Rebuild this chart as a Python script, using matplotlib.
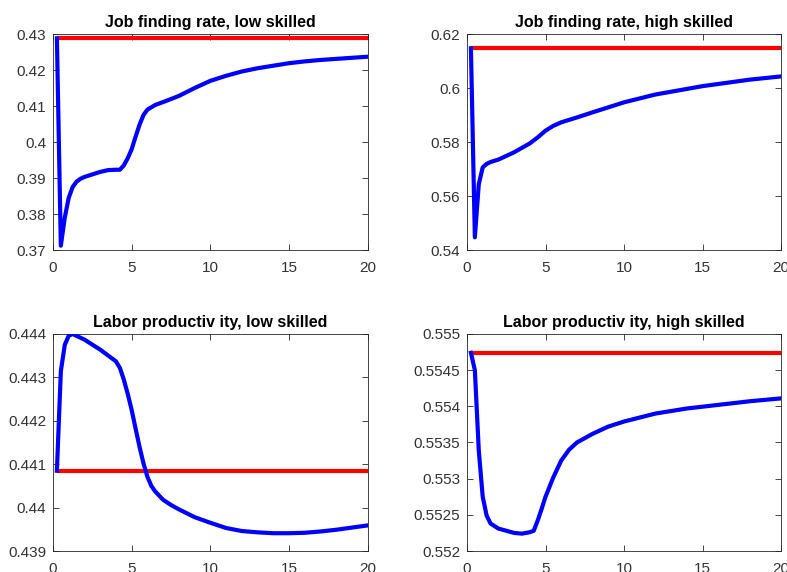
import numpy as np
import matplotlib
matplotlib.use('Agg')
import matplotlib.pyplot as plt
from matplotlib.ticker import FormatStrFormatter

# --- Dados (tempo em anos) ---

t_jfr_low = [0.25, 0.5, 0.75, 1.0, 1.25, 1.5, 1.75, 2.0, 2.5, 3.0, 3.5, 4.0, 4.25, 4.5,
             4.75, 5.0, 5.25, 5.5, 5.75, 6.0, 6.5, 7.0, 8.0, 9.0, 10.0, 11.0, 12.0,
             13.0, 14.0, 15.0, 16.0, 17.0, 18.0, 19.0, 20.0]
jfr_low = [0.4288, 0.3712, 0.3790, 0.3845, 0.3875, 0.3890, 0.3898, 0.3903, 0.3910,
           0.3917, 0.3922, 0.3923, 0.3923, 0.3935, 0.3955, 0.3980, 0.4015, 0.4048,
           0.4075, 0.4090, 0.4103, 0.4111, 0.4128, 0.4150, 0.4170, 0.4184, 0.4196,
           0.4205, 0.4212, 0.4219, 0.4224, 0.4228, 0.4231, 0.4234, 0.4237]
jfr_low_ss = 0.4290

t_jfr_high = [0.25, 0.5, 0.75, 1.0, 1.25, 1.5, 2.0, 3.0, 4.0, 4.5, 5.0, 5.5, 6.0, 7.0,
              8.0, 10.0, 12.0, 15.0, 18.0, 20.0]
jfr_high = [0.6147, 0.5447, 0.5644, 0.5706, 0.5719, 0.5726, 0.5735, 0.5762, 0.5795,
            0.5817, 0.5842, 0.5860, 0.5873, 0.5891, 0.5910, 0.5947, 0.5976, 0.6007,
            0.6031, 0.6043]
jfr_high_ss = 0.6147

t_prod_low = [0.25, 0.5, 0.75, 1.0, 1.25, 2.0, 3.0, 4.0, 4.25, 4.5, 4.75, 5.0, 5.25,
              5.5, 5.75, 6.0, 6.25, 6.5, 7.0, 7.5, 8.0, 9.0, 10.0, 11.0, 12.0, 13.0,
              14.0, 15.0, 16.0, 17.0, 18.0, 19.0, 20.0]
prod_low = [0.44085, 0.44314, 0.44375, 0.44396, 0.44400, 0.44387, 0.44364, 0.44337,
            0.44322, 0.44295, 0.44262, 0.44225, 0.44182, 0.44140, 0.44102, 0.44071,
            0.44050, 0.44037, 0.44018, 0.44006, 0.43996, 0.43978, 0.43965, 0.43953,
            0.43946, 0.43943, 0.43941, 0.43941, 0.43942, 0.43945, 0.43949, 0.43954,
            0.43959]
prod_low_ss = 0.44085

t_prod_high = [0.25, 0.5, 0.75, 1.0, 1.25, 1.5, 2.0, 3.0, 3.5, 4.0, 4.25, 4.5, 4.75,
               5.0, 5.5, 6.0, 6.5, 7.0, 8.0, 9.0, 10.0, 12.0, 14.0, 16.0, 18.0, 20.0]
prod_high = [0.55474, 0.55450, 0.55339, 0.55275, 0.55249, 0.55238, 0.55231, 0.55225,
             0.55224, 0.55226, 0.55228, 0.55242, 0.55258, 0.55275, 0.55302, 0.55325,
             0.55340, 0.55350, 0.55362, 0.55372, 0.55379, 0.55390, 0.55397, 0.55402,
             0.55407, 0.55411]
prod_high_ss = 0.55474

titulos = ['Job finding rate, low skilled', 'Job finding rate, high skilled',
           'Labor productiv ity, low skilled', 'Labor productiv ity, high skilled']
y_ticks = [
    [0.37, 0.38, 0.39, 0.40, 0.41, 0.42, 0.43],
    [0.54, 0.56, 0.58, 0.60, 0.62],
    [0.439, 0.440, 0.441, 0.442, 0.443, 0.444],
    [0.552, 0.5525, 0.553, 0.5535, 0.554, 0.5545, 0.555],
]
x_ticks = [0, 5, 10, 15, 20]

plt.rcParams['font.family'] = ['Liberation Sans', 'DejaVu Sans']

fig = plt.figure(figsize=(7.87, 5.72), dpi=100)

# posições dos eixos (em fração da figura)
posicoes = [
    [0.0673, 0.5629, 0.400, 0.3776],
    [0.5934, 0.5629, 0.399, 0.3776],
    [0.0673, 0.0367, 0.400, 0.3794],
    [0.5934, 0.0367, 0.399, 0.3794],
]

series = [
    (t_jfr_low, jfr_low, jfr_low_ss),
    (t_jfr_high, jfr_high, jfr_high_ss),
    (t_prod_low, prod_low, prod_low_ss),
    (t_prod_high, prod_high, prod_high_ss),
]

cinza = '#262626'
cor_rotulo = '#333333'
for i in range(4):
    ax = fig.add_axes(posicoes[i])
    t, y, ss = series[i]
    ax.plot([t[0], 20], [ss, ss], color='red', lw=3.0, solid_capstyle='butt', zorder=2)
    ax.plot(t, y, color='blue', lw=3.0, solid_joinstyle='round', zorder=3)
    ax.set_xlim(0, 20)
    ax.set_ylim(y_ticks[i][0], y_ticks[i][-1])
    ax.set_xticks(x_ticks)
    ax.set_yticks(y_ticks[i])
    ax.yaxis.set_major_formatter(FormatStrFormatter('%g'))
    ax.tick_params(direction='in', top=True, right=True, length=4, width=0.6,
                   color=cinza, labelcolor=cor_rotulo, labelsize=11)
    ax.tick_params(axis='x', pad=8)
    ax.tick_params(axis='y', pad=5)
    for s in ax.spines.values():
        s.set_color(cinza)
        s.set_linewidth(0.6)
    ax.set_title(titulos[i], fontsize=11.5, fontweight='bold', pad=5)

plt.savefig('out.png', dpi=100)
